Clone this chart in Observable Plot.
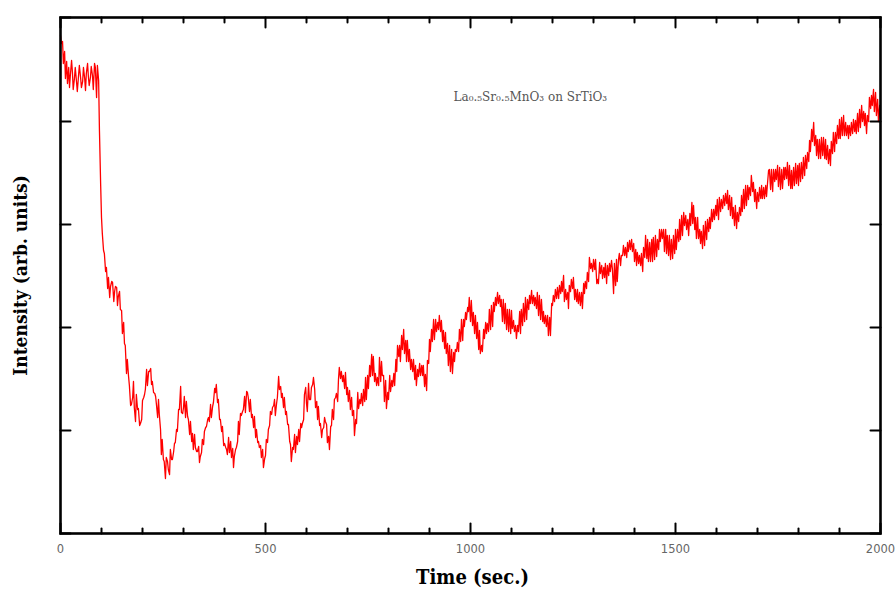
<!DOCTYPE html>
<html>
<head>
<meta charset="utf-8">
<script src="https://cdn.jsdelivr.net/npm/d3@7"></script>
<script src="https://cdn.jsdelivr.net/npm/@observablehq/plot@0.6"></script>
<style>
  html, body { margin: 0; padding: 0; background: #fff; }
  #chart { width: 895px; height: 590px; }
</style>
</head>
<body>
<div id="chart"></div>
<script>
// Time (s) and intensity (arb. units)
const time = [0,2,5,7,10,12,15,17,20,22,24,27,29,31,34,36,39,41,44,46,49,51,54,56,59,61,63,66,68,70,73,75,78,80,83,85,88,90,93,95,98,100,102,105,107,110,112,115,117,120,122,125,127,130,132,134,137,139,141,144,146,149,151,154,156,158,161,163,166,168,171,173,176,178,180,183,185,188,190,193,195,198,200,203,205,207,210,212,215,217,220,222,224,227,230,232,234,237,239,241,244,246,248,251,253,256,258,261,263,266,268,271,273,276,278,280,283,285,288,290,293,295,298,300,302,305,307,310,312,315,317,320,322,324,327,329,332,334,337,339,341,344,346,349,351,354,356,359,361,363,366,368,371,373,376,378,380,383,385,388,390,393,395,398,400,403,405,407,410,412,415,417,420,422,424,427,429,432,434,436,439,441,444,446,449,451,454,456,458,461,463,466,468,471,473,476,478,481,483,485,488,490,493,495,498,500,502,505,507,510,512,515,517,520,522,524,527,529,532,534,537,539,541,544,546,549,551,554,556,559,561,563,566,568,571,573,576,578,581,583,586,588,590,593,595,598,600,602,605,607,610,612,615,617,620,622,625,627,629,632,634,637,639,642,644,646,649,651,654,656,659,661,663,666,668,671,673,676,678,680,683,685,688,690,693,695,698,700,702,705,707,710,712,715,717,720,722,725,727,730,732,734,737,739,742,744,746,749,751,754,756,759,761,763,766,768,771,773,776,778,781,783,785,788,790,793,795,798,800,803,805,808,810,813,815,818,820,822,825,827,829,832,834,837,839,842,844,846,849,851,854,856,859,861,864,866,868,871,873,876,878,881,883,885,888,890,893,895,898,900,902,905,907,910,912,915,917,920,922,924,927,929,932,934,937,939,941,944,946,949,951,954,956,959,961,963,966,968,971,973,976,978,981,983,985,988,990,993,995,997,1000,1002,1005,1007,1010,1012,1015,1017,1020,1022,1024,1027,1029,1032,1034,1037,1039,1041,1044,1046,1049,1051,1054,1056,1058,1061,1063,1066,1068,1071,1073,1075,1078,1080,1083,1085,1088,1090,1093,1095,1098,1100,1102,1105,1107,1110,1112,1115,1117,1120,1122,1124,1127,1129,1132,1134,1137,1139,1142,1144,1146,1149,1151,1154,1156,1158,1161,1163,1166,1168,1171,1173,1176,1178,1180,1183,1185,1188,1190,1193,1195,1198,1200,1202,1205,1207,1210,1212,1215,1217,1220,1222,1224,1227,1229,1232,1234,1237,1239,1241,1244,1246,1249,1251,1254,1256,1259,1261,1263,1266,1268,1271,1273,1276,1278,1280,1283,1285,1288,1290,1293,1295,1298,1300,1303,1305,1308,1310,1312,1315,1317,1320,1322,1325,1327,1329,1332,1334,1337,1339,1341,1344,1346,1349,1351,1354,1356,1358,1361,1363,1366,1368,1371,1373,1376,1378,1381,1383,1385,1388,1390,1393,1395,1398,1400,1403,1405,1407,1410,1412,1415,1417,1420,1422,1425,1427,1430,1432,1434,1437,1439,1442,1444,1446,1449,1451,1454,1456,1459,1461,1463,1466,1468,1471,1473,1476,1478,1480,1483,1485,1488,1490,1493,1495,1498,1500,1502,1505,1508,1510,1512,1515,1517,1520,1522,1525,1527,1530,1532,1535,1537,1540,1542,1544,1547,1549,1551,1554,1556,1559,1561,1563,1566,1568,1571,1573,1576,1578,1581,1583,1585,1588,1590,1593,1595,1598,1600,1602,1605,1607,1610,1612,1615,1617,1620,1622,1625,1627,1629,1632,1634,1637,1639,1641,1644,1646,1649,1651,1654,1656,1659,1661,1663,1666,1668,1671,1673,1676,1678,1680,1683,1685,1688,1690,1693,1695,1698,1700,1703,1705,1708,1710,1712,1715,1717,1720,1722,1724,1727,1729,1732,1734,1737,1739,1742,1744,1746,1749,1751,1754,1756,1759,1761,1764,1766,1768,1771,1773,1776,1778,1781,1783,1785,1788,1790,1793,1795,1798,1800,1802,1805,1807,1810,1812,1815,1817,1820,1822,1825,1827,1829,1832,1834,1837,1839,1842,1844,1846,1849,1851,1854,1856,1859,1861,1864,1866,1868,1871,1873,1876,1878,1880,1883,1885,1888,1890,1893,1895,1898,1900,1902,1905,1907,1910,1912,1915,1917,1920,1922,1924,1927,1929,1932,1934,1937,1939,1941,1944,1946,1949,1951,1954,1956,1959,1961,1963,1966,1968,1971,1973,1976,1978,1980,1983,1985,1988,1990,1993,1995,1998,2000];

const intensity = [498,490,492,470,482,455,472,450,466,446,458,473,462,444,455,466,452,442,458,468,456,446,452,466,455,443,460,470,457,448,456,467,458,444,470,466,436,468,453,
403,348,316,300,283,280,262,266,245,256,
236,247,252,251,232,242,247,246,228,237,
242,224,223,200,211,190,188,160,174,157,
148,128,129,136,152,126,112,139,124,125,
108,110,114,133,136,139,144,164,148,162,
162,165,149,152,141,140,137,129,116,134,
119,104,79,94,74,72,55,76,72,64,
59,84,74,74,82,90,91,104,102,124,
124,147,121,120,126,137,116,132,117,114,
99,112,92,100,84,99,86,82,82,87,
71,77,81,94,89,102,106,107,114,116,
112,129,116,127,131,145,141,149,131,134,
114,114,102,107,88,90,86,84,79,96,
81,92,76,85,66,77,84,86,92,112,
99,120,118,122,124,137,121,142,141,136,
122,134,116,119,106,117,96,104,91,92,
86,88,76,84,66,75,78,94,91,104,
108,122,119,126,128,134,118,130,136,157,
144,147,136,140,126,136,119,122,109,109,
92,89,72,86,84,99,81,97,89,104,
92,110,106,110,114,139,146,130,122,150,
134,134,146,149,156,144,126,132,114,127,
108,110,96,104,106,116,112,109,91,97,
84,107,108,124,114,134,136,140,132,154,
166,155,162,152,158,145,161,139,146,132,
143,124,136,118,123,98,114,110,141,125,
134,130,140,128,144,132,156,134,158,145,
168,157,179,158,177,152,160,148,156,148,
176,152,172,158,158,132,153,125,141,134,
158,142,153,147,160,148,174,162,188,177,
188,172,198,184,204,180,193,172,193,172,
184,164,174,162,174,154,168,148,164,157,
170,158,168,158,168,147,159,143,173,170,
194,182,204,192,214,194,214,202,211,204,
218,202,213,192,203,185,201,180,190,168,
188,162,184,160,181,172,184,182,191,182,
204,192,214,193,214,207,221,214,226,222,
236,212,233,208,221,200,218,195,211,184,
203,180,188,182,204,195,211,200,210,202,
224,204,228,207,231,222,236,228,241,230,
238,227,234,212,234,210,230,204,224,202,
224,200,223,205,213,202,208,195,208,202,
222,200,224,208,230,212,236,214,234,224,
238,230,243,230,238,228,236,225,241,218,
238,214,234,212,222,210,218,207,218,198,
216,198,230,228,238,232,244,235,246,235,
248,240,252,242,258,232,244,234,241,225,
248,242,254,245,256,234,244,232,244,230,
241,228,241,225,250,240,252,245,261,252,
276,265,270,262,274,264,274,250,254,250,
271,260,268,255,266,256,270,250,268,258,
270,262,273,265,240,270,248,274,252,274,
280,268,278,278,288,278,286,276,291,282,
293,284,294,282,290,272,284,268,281,270,
278,268,280,262,286,276,298,275,294,272,
291,272,294,272,296,274,298,277,294,284,
304,292,304,295,304,282,304,280,298,278,
298,274,294,275,298,280,304,284,304,292,
314,294,318,298,321,308,318,304,314,298,
320,308,331,310,328,304,316,295,316,295,
304,290,302,285,308,288,312,294,314,302,
316,305,324,312,324,314,328,318,334,314,
336,322,334,325,338,328,340,330,343,324,
338,318,336,315,326,308,328,305,321,312,
326,318,338,322,344,325,348,328,348,334,
346,338,358,342,351,332,344,325,341,332,
346,335,348,335,346,335,348,337,348,363,
364,344,364,342,364,352,364,354,368,347,
366,344,364,345,366,354,366,355,371,348,
368,345,363,345,366,348,370,350,368,348,
370,352,371,355,376,358,378,365,381,372,
393,382,404,392,411,388,398,378,394,375,
394,375,396,378,396,375,394,374,388,370,
384,368,392,380,401,382,401,390,408,395,
414,395,416,398,418,398,411,398,408,395,
408,398,411,400,414,402,413,400,420,402,
424,406,428,412,422,408,420,400,418,412,
436,425,438,428,444,422,441,418,434,412,
428,415];

const xMajor = [0, 500, 1000, 1500, 2000];
const xMinor = [100, 200, 300, 400, 600, 700, 800, 900, 1100, 1200, 1300, 1400, 1600, 1700, 1800, 1900];
const yTicks = [0, 103, 206, 309, 412, 516];
const xTitle = "Time (sec.)";
const yTitle = "Intensity (arb. units)";
const note = "La\u2080.\u2085Sr\u2080.\u2085MnO\u2083 on SrTiO\u2083";

const n = Math.min(time.length, intensity.length);
const data = d3.range(n).map(i => ({t: time[i], v: intensity[i]}));

const tickShape = {draw(context, l) { context.moveTo(0, 0); context.lineTo(0, -l); }};
const tickOpts = {shape: tickShape, anchor: "start", stroke: "black", strokeWidth: 2};
const titleFont = "'DejaVu Serif Condensed', 'DejaVu Serif', serif";

const chart = Plot.plot({
  width: 895,
  height: 590,
  marginLeft: 60,
  marginRight: 15,
  marginTop: 17,
  marginBottom: 57,
  x: {domain: [0, 2000], label: null, axis: null},
  y: {domain: [0, 516], label: null, axis: null},
  style: {background: "white", fontFamily: "'DejaVu Sans', sans-serif"},
  marks: [
    Plot.line(data, {x: "t", y: "v", stroke: "#ff0000", strokeWidth: 1.3}),
    // inward ticks
    Plot.vector(xMinor, {x: d => d, frameAnchor: "bottom", length: 5, rotate: 0, ...tickOpts}),
    Plot.vector(xMajor, {x: d => d, frameAnchor: "bottom", length: 10, rotate: 0, ...tickOpts}),
    Plot.vector(xMinor, {x: d => d, frameAnchor: "top", length: 5, rotate: 180, ...tickOpts}),
    Plot.vector(xMajor, {x: d => d, frameAnchor: "top", length: 10, rotate: 180, ...tickOpts}),
    Plot.vector(yTicks, {y: d => d, frameAnchor: "left", length: 10, rotate: 90, ...tickOpts}),
    Plot.vector(yTicks, {y: d => d, frameAnchor: "right", length: 10, rotate: -90, ...tickOpts}),
    Plot.frame({stroke: "black", strokeWidth: 2.6}),
    // tick labels
    Plot.axisX(xMajor, {anchor: "bottom", tickSize: 0, tickPadding: 11, tickFormat: d3.format("d"), fill: "#666", fontSize: 11.5}),
    // titles
    Plot.text([xTitle], {frameAnchor: "bottom", lineAnchor: "middle", textAnchor: "middle", dy: 44, dx: 2, fontSize: 20, fontWeight: "bold", fontFamily: titleFont, fill: "black"}),
    Plot.text([yTitle], {frameAnchor: "left", textAnchor: "middle", lineAnchor: "middle", rotate: -90, dx: -40, fontSize: 19, fontWeight: "bold", fontFamily: titleFont, fill: "black"}),
    Plot.text([note], {x: 1146, y: 436, fontSize: 12, fontFamily: "'DejaVu Serif', serif", fill: "#555"})
  ]
});
document.getElementById("chart").appendChild(chart);
</script>
</body>
</html>
